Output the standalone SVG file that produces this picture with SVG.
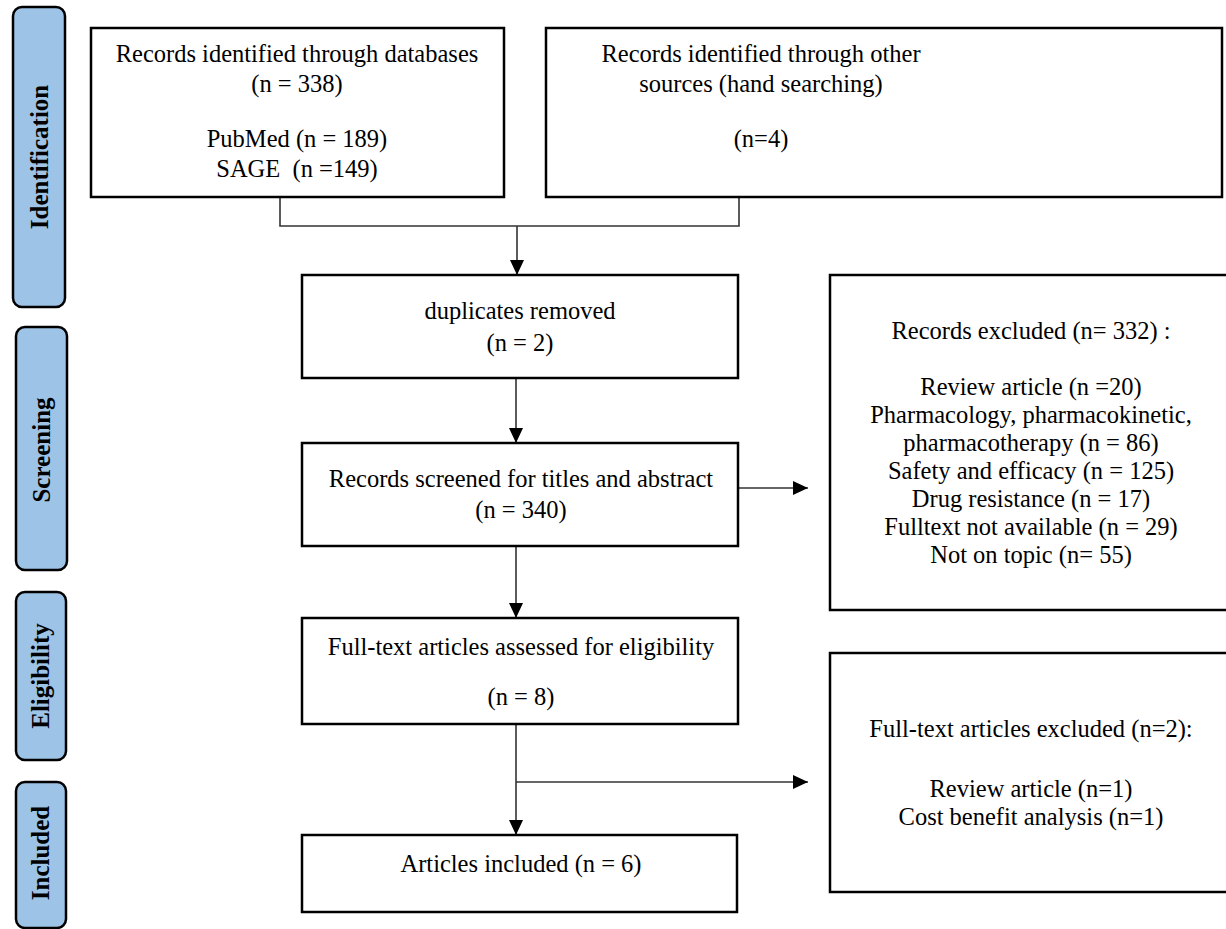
<svg xmlns="http://www.w3.org/2000/svg" width="1226" height="929" viewBox="0 0 1226 929">
<style>
.bg{fill:#ffffff}
.box{fill:#ffffff;stroke:#000;stroke-width:2.5}
.side{fill:#9DC3E6;stroke:#000;stroke-width:2.5}
.t{font-family:"Liberation Serif","Times New Roman",serif;font-size:24.5px;fill:#000;text-anchor:middle}
.st{font-family:"Liberation Serif","Times New Roman",serif;font-size:25px;font-weight:bold;fill:#000;text-anchor:middle}
.ln{fill:none;stroke:#333;stroke-width:1.6}
</style>
<defs>
<marker id="ah" markerUnits="userSpaceOnUse" markerWidth="16" markerHeight="14" refX="15" refY="7" orient="auto">
<path d="M0,0 L15,7 L0,14 z" fill="#000"/>
</marker>
</defs>
<rect class="bg" x="0" y="0" width="1226" height="929"/>

<g id="phase-identification">
<rect class="side" x="13" y="7" width="52" height="300" rx="9"/>
<text class="st" transform="translate(48,157) rotate(-90)">Identification</text>
</g>
<g id="phase-screening">
<rect class="side" x="16" y="327" width="51" height="243" rx="9"/>
<text class="st" transform="translate(50,450) rotate(-90)">Screening</text>
</g>
<g id="phase-eligibility">
<rect class="side" x="16" y="592" width="50" height="168" rx="9"/>
<text class="st" transform="translate(49,676) rotate(-90)">Eligibility</text>
</g>
<g id="phase-included">
<rect class="side" x="16" y="782" width="50" height="146" rx="9"/>
<text class="st" transform="translate(49,853) rotate(-90)">Included</text>
</g>

<g id="connectors">
<polyline class="ln" points="280,197 280,226 739,226 739,197"/>
<line class="ln" x1="517" y1="226" x2="517" y2="275" marker-end="url(#ah)"/>
<line class="ln" x1="516" y1="378" x2="516" y2="443" marker-end="url(#ah)"/>
<line class="ln" x1="738" y1="488" x2="808" y2="488" marker-end="url(#ah)"/>
<line class="ln" x1="516" y1="546" x2="516" y2="618" marker-end="url(#ah)"/>
<line class="ln" x1="516" y1="724" x2="516" y2="835" marker-end="url(#ah)"/>
<line class="ln" x1="516" y1="782" x2="808" y2="782" marker-end="url(#ah)"/>
</g>

<g id="node-databases">
<rect class="box" x="91" y="28" width="413" height="169"/>
<text class="t" x="297" y="62">Records identified through databases</text>
<text class="t" x="297" y="92">(n = 338)</text>
<text class="t" x="297" y="147">PubMed (n = 189)</text>
<text class="t" x="297" y="177" xml:space="preserve">SAGE  (n =149)</text>
</g>
<g id="node-other-sources">
<rect class="box" x="546" y="28" width="676" height="169"/>
<text class="t" x="761" y="62">Records identified through other</text>
<text class="t" x="761" y="92">sources (hand searching)</text>
<text class="t" x="761" y="147">(n=4)</text>
</g>
<g id="node-duplicates">
<rect class="box" x="302" y="275" width="436" height="103"/>
<text class="t" x="520" y="319">duplicates removed</text>
<text class="t" x="520" y="351">(n = 2)</text>
</g>
<g id="node-screened">
<rect class="box" x="302" y="443" width="436" height="103"/>
<text class="t" x="521" y="487">Records screened for titles and abstract</text>
<text class="t" x="521" y="518">(n = 340)</text>
</g>
<g id="node-excluded-records">
<rect class="box" x="830" y="275" width="410" height="335"/>
<text class="t" x="1031" y="339">Records excluded (n= 332) :</text>
<text class="t" x="1031" y="395">Review article (n =20)</text>
<text class="t" x="1031" y="423">Pharmacology, pharmacokinetic,</text>
<text class="t" x="1031" y="451">pharmacotherapy (n = 86)</text>
<text class="t" x="1031" y="479">Safety and efficacy (n = 125)</text>
<text class="t" x="1031" y="507">Drug resistance (n = 17)</text>
<text class="t" x="1031" y="535">Fulltext not available (n = 29)</text>
<text class="t" x="1031" y="563">Not on topic (n= 55)</text>
</g>
<g id="node-fulltext">
<rect class="box" x="302" y="618" width="436" height="106"/>
<text class="t" x="521" y="655">Full-text articles assessed for eligibility</text>
<text class="t" x="521" y="705">(n = 8)</text>
</g>
<g id="node-excluded-fulltext">
<rect class="box" x="830" y="653" width="410" height="239"/>
<text class="t" x="1031" y="737">Full-text articles excluded (n=2):</text>
<text class="t" x="1031" y="797">Review article (n=1)</text>
<text class="t" x="1031" y="825">Cost benefit analysis (n=1)</text>
</g>
<g id="node-included">
<rect class="box" x="302" y="835" width="435" height="77"/>
<text class="t" x="521" y="872">Articles included (n = 6)</text>
</g>
</svg>
